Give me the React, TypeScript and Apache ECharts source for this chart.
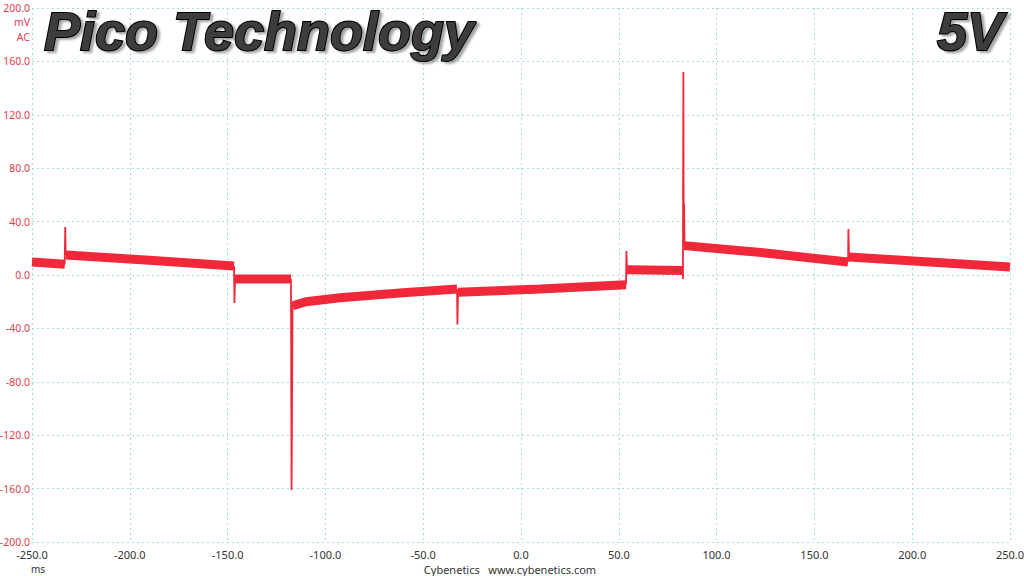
import React, { useEffect, useRef } from "react";
import * as echarts from "echarts";

// ---- data (ms, mV) ----
const xTicks = [-250, -200, -150, -100, -50, 0, 50, 100, 150, 200, 250];
const yTicks = [-200, -160, -120, -80, -40, 0, 40, 80, 120, 160, 200];

// main noisy band (null separates segments)
const bandTime: (number | null)[] = [
  -250, -233.2, null,
  -232.7, -190, -146.7, null,
  -146.2, -117.6, null,
  -116.7, -110, -92.5, -62, -32.7, null,
  -32.2, 10, 53.7, null,
  54.2, 82.8, null,
  83.4, 125, 167.2, null,
  167.7, 250,
];
const bandValue: (number | null)[] = [
  9.7, 8.0, null,
  15.0, 11.0, 6.7, null,
  -3.0, -3.0, null,
  -23.0, -20.0, -17.0, -13.5, -10.5, null,
  -13.0, -10.5, -7.3, null,
  4.0, 3.3, null,
  22.0, 16.5, 9.7, null,
  13.5, 6.0,
];

// thin spikes at each switching edge
const spikeTime: (number | null)[] = [
  -233.3, -233.0, -232.8, null,
  -146.7, -146.5, -146.2, null,
  -117.6, -117.3, -117.1, -116.8, null,
  -32.7, -32.5, -32.2, null,
  53.7, 53.9, 54.2, null,
  82.7, 82.8, 83.0, 83.2, 83.4, 83.6, null,
  167.2, 167.4, 167.7,
];
const spikeValue: (number | null)[] = [
  8.0, 36.0, 15.0, null,
  6.7, -21.0, -3.0, null,
  -3.0, -161.0, -110.0, -22.0, null,
  -10.5, -37.0, -13.5, null,
  -7.3, 18.0, 4.0, null,
  3.3, -3.0, 152.0, 22.0, 53.0, 22.0, null,
  9.7, 34.5, 13.5,
];

const RED = "#f0283a";
const GRID = "#a8dada";

function pairs(t: (number | null)[], v: (number | null)[]) {
  return t.map((x, i) => (x === null || v[i] === null ? ["-", "-"] : [x, v[i]]));
}

export default function App() {
  const ref = useRef<HTMLDivElement>(null);
  useEffect(() => {
    if (!ref.current) return;
    const chart = echarts.init(ref.current, undefined, { renderer: "svg" });
    const titleStyle = {
      font: "italic bold 54px 'Liberation Sans', Arial, sans-serif",
      fill: "#3c3c3c",
      stroke: "#000",
      lineWidth: 2,
      textShadowColor: "rgba(0,0,0,0.35)",
      textShadowOffsetX: 3,
      textShadowOffsetY: 2,
      textShadowBlur: 2,
    };
    chart.setOption({
      animation: false,
      backgroundColor: "#fff",
      grid: { left: 32, right: 14, top: 8, bottom: 34, outerBoundsMode: "none", containLabel: false },
      xAxis: {
        type: "value",
        min: -250,
        max: 250,
        interval: 50,
        axisLine: { show: false },
        axisTick: { show: false },
        axisLabel: {
          color: "#333",
          fontSize: 11,
          fontFamily: "'Noto Sans', sans-serif",
          margin: 7,
          formatter: (v: number) => v.toFixed(1),
        },
        splitLine: { show: true, lineStyle: { color: GRID, type: [2, 3], width: 1 } },
      },
      yAxis: {
        type: "value",
        min: -200,
        max: 200,
        interval: 40,
        axisLine: { show: false },
        axisTick: { show: false },
        axisLabel: {
          color: "#e0404e",
          fontSize: 10.5,
          fontFamily: "'Noto Sans', sans-serif",
          margin: 2,
          formatter: (v: number) => v.toFixed(1),
        },
        splitLine: { show: true, lineStyle: { color: GRID, type: [2, 3], width: 1 } },
      },
      series: [
        {
          type: "line",
          data: pairs(bandTime, bandValue),
          showSymbol: false,
          connectNulls: false,
          lineStyle: { color: RED, width: 9, cap: "butt" },
          z: 2,
        },
        {
          type: "line",
          data: pairs(spikeTime, spikeValue),
          showSymbol: false,
          connectNulls: false,
          lineStyle: { color: RED, width: 1.8 },
          z: 3,
        },
      ],
      graphic: [
        { type: "text", left: 43, top: 3, style: { ...titleStyle, text: "Pico Technology" }, z: 10 },
        { type: "text", right: 20, top: 3, style: { ...titleStyle, text: "5V" }, z: 10 },
        { type: "text", x: 30, y: 22, style: { text: "mV", fill: "#e0404e", font: "10.5px 'Noto Sans', sans-serif", textAlign: "right", textVerticalAlign: "middle" } },
        { type: "text", x: 30, y: 37, style: { text: "AC", fill: "#e0404e", font: "10.5px 'Noto Sans', sans-serif", textAlign: "right", textVerticalAlign: "middle" } },
        { type: "text", x: 38, y: 569, style: { text: "ms", fill: "#333", font: "10px 'Noto Sans', sans-serif", textAlign: "center", textVerticalAlign: "middle" } },
        { type: "text", x: 510, y: 569, style: { text: "Cybenetics   www.cybenetics.com", fill: "#333", font: "11px 'Noto Sans', sans-serif", textAlign: "center", textVerticalAlign: "middle" } },
      ],
    });
    return () => chart.dispose();
  }, []);
  return <div ref={ref} style={{ width: 1024, height: 576, position: "absolute", left: 0, top: 0 }} />;
}
